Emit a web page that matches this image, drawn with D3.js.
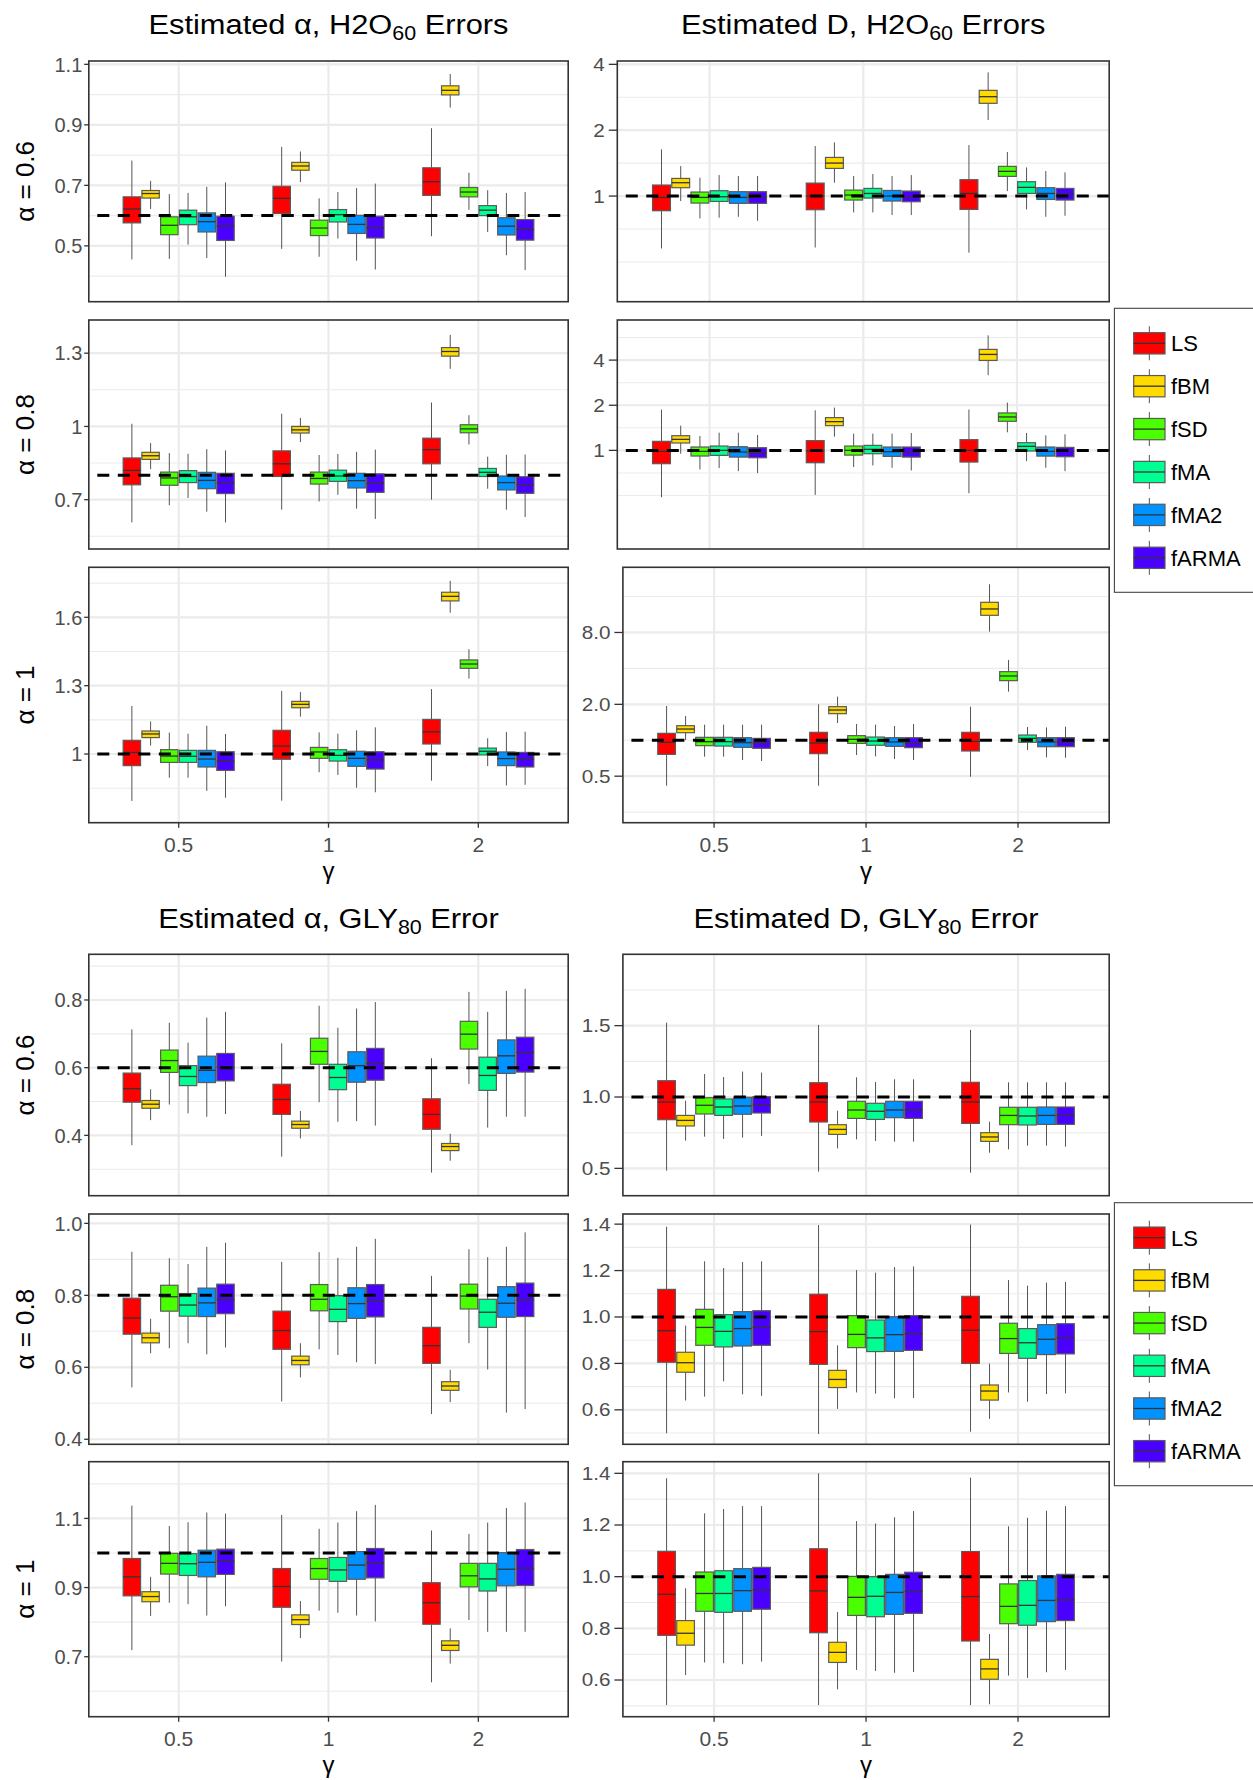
<!DOCTYPE html>
<html>
<head>
<meta charset="utf-8">
<script src="https://cdn.jsdelivr.net/npm/d3@7"></script>
<style>
  body { margin: 0; background: #fff; }
  svg { display: block; }
  text { font-family: "Liberation Sans", Arial, Helvetica, sans-serif; }
</style>
</head>
<body>
<svg id="chart" width="1253" height="1780"></svg>
<script>
// ---------------------------------------------------------------
// Categories
// ---------------------------------------------------------------
const methods = ["LS", "fBM", "fSD", "fMA", "fMA2", "fARMA"];
const methodColors = ["#FF0000", "#FFDB00", "#49FF00", "#00FF92", "#0092FF", "#4900FF"];
const gammaLevels = ["0.5", "1", "2"];

// ---------------------------------------------------------------
// Box statistics: for each γ (0.5, 1, 2), one row per method
// (LS, fBM, fSD, fMA, fMA2, fARMA): [lower whisker, Q1, median, Q3, upper whisker]
// ---------------------------------------------------------------

// Estimated α, H2O60 errors
const alphaH2O_a06 = [
  [[0.455,0.576,0.622,0.662,0.782],[0.622,0.658,0.673,0.683,0.715],[0.457,0.537,0.568,0.596,0.671],
   [0.504,0.570,0.596,0.618,0.675],[0.460,0.546,0.580,0.609,0.695],[0.398,0.518,0.566,0.598,0.710]],
  [[0.490,0.607,0.657,0.697,0.827],[0.711,0.750,0.764,0.776,0.812],[0.464,0.534,0.559,0.585,0.657],
   [0.524,0.579,0.603,0.620,0.678],[0.451,0.541,0.571,0.601,0.691],[0.422,0.526,0.560,0.598,0.706]],
  [[0.532,0.667,0.712,0.758,0.889],[0.957,0.999,1.014,1.029,1.068],[0.619,0.662,0.678,0.693,0.742],
   [0.546,0.600,0.618,0.633,0.684],[0.469,0.536,0.565,0.593,0.675],[0.420,0.519,0.554,0.587,0.678]]
];
const alphaH2O_a08 = [
  [[0.607,0.761,0.820,0.871,1.011],[0.825,0.865,0.880,0.894,0.932],[0.677,0.759,0.789,0.813,0.891],
   [0.707,0.770,0.795,0.819,0.888],[0.651,0.745,0.779,0.812,0.907],[0.607,0.725,0.770,0.808,0.902]],
  [[0.659,0.795,0.847,0.900,1.052],[0.936,0.973,0.986,1.000,1.035],[0.693,0.764,0.787,0.813,0.883],
   [0.720,0.775,0.797,0.821,0.887],[0.663,0.748,0.778,0.808,0.896],[0.621,0.730,0.768,0.806,0.905]],
  [[0.700,0.847,0.905,0.952,1.098],[1.236,1.288,1.307,1.323,1.375],[0.926,0.974,0.990,1.007,1.046],
   [0.745,0.795,0.812,0.828,0.876],[0.659,0.740,0.770,0.797,0.884],[0.629,0.726,0.761,0.794,0.885]]
];
const alphaH2O_a10 = [
  [[0.794,0.949,1.007,1.060,1.211],[1.037,1.072,1.088,1.101,1.143],[0.896,0.963,0.991,1.019,1.094],
   [0.896,0.963,0.990,1.016,1.089],[0.838,0.943,0.978,1.016,1.124],[0.808,0.928,0.969,1.010,1.088]],
  [[0.795,0.977,1.035,1.104,1.277],[1.164,1.203,1.218,1.231,1.272],[0.920,0.981,1.009,1.029,1.095],
   [0.908,0.969,0.994,1.019,1.089],[0.852,0.946,0.981,1.012,1.104],[0.832,0.934,0.974,1.010,1.117]],
  [[0.883,1.044,1.097,1.152,1.285],[1.620,1.672,1.692,1.710,1.760],[1.331,1.376,1.395,1.413,1.460],
   [0.947,0.996,1.012,1.026,1.069],[0.862,0.949,0.980,1.009,1.097],[0.865,0.943,0.978,1.007,1.098]]
];

// Estimated D, H2O60 errors
const dH2O_a06 = [
  [[0.576,0.857,0.986,1.123,1.635],[0.949,1.092,1.151,1.204,1.371],[0.790,0.929,0.986,1.043,1.213],
   [0.796,0.945,0.993,1.058,1.247],[0.804,0.926,0.986,1.047,1.235],[0.771,0.926,0.986,1.047,1.235]],
  [[0.582,0.866,1.000,1.146,1.693],[1.151,1.338,1.415,1.502,1.759],[0.842,0.959,1.011,1.065,1.235],
   [0.842,0.979,1.028,1.084,1.261],[0.819,0.949,1.000,1.061,1.235],[0.819,0.942,0.993,1.054,1.247]],
  [[0.551,0.869,1.028,1.188,1.711],[2.226,2.654,2.846,3.042,3.677],[1.054,1.230,1.297,1.367,1.589],
   [0.869,1.028,1.096,1.163,1.352],[0.804,0.965,1.028,1.092,1.301],[0.813,0.959,1.021,1.084,1.283]]
];
const dH2O_a08 = [
  [[0.487,0.815,0.985,1.149,1.871],[0.950,1.120,1.184,1.253,1.462],[0.746,0.917,0.985,1.053,1.247],
   [0.762,0.926,1.000,1.069,1.313],[0.727,0.902,0.975,1.058,1.313],[0.705,0.893,0.960,1.042,1.266]],
  [[0.505,0.827,0.990,1.161,1.852],[1.234,1.462,1.555,1.654,1.929],[0.774,0.930,1.000,1.069,1.293],
   [0.794,0.950,1.016,1.080,1.293],[0.766,0.912,0.980,1.053,1.293],[0.735,0.902,0.975,1.053,1.306]],
  [[0.518,0.836,1.000,1.179,1.871],[3.175,3.980,4.365,4.715,5.849],[1.320,1.563,1.671,1.777,2.084],
   [0.848,0.990,1.064,1.125,1.306],[0.766,0.916,0.985,1.053,1.260],[0.727,0.907,0.985,1.047,1.280]]
];
const dH2O_a10 = [
  [[0.416,0.762,0.961,1.143,1.937],[1.005,1.157,1.242,1.325,1.596],[0.728,0.901,0.973,1.058,1.351],
   [0.728,0.894,0.973,1.058,1.351],[0.683,0.872,0.955,1.051,1.351],[0.670,0.856,0.948,1.037,1.351]],
  [[0.416,0.772,0.948,1.165,2.000],[1.395,1.670,1.793,1.912,2.319],[0.752,0.942,1.018,1.093,1.368],
   [0.733,0.908,0.985,1.064,1.351],[0.696,0.889,0.967,1.051,1.317],[0.683,0.867,0.955,1.051,1.368]],
  [[0.495,0.813,0.979,1.165,1.912],[8.13,11.14,12.59,14.32,20.26],[2.554,3.159,3.456,3.757,4.70],
   [0.829,0.961,1.037,1.106,1.292],[0.719,0.883,0.967,1.051,1.281],[0.713,0.883,0.967,1.051,1.299]]
];

// Estimated α, GLY80 error
const alphaGLY_a06 = [
  [[0.371,0.498,0.538,0.584,0.713],[0.445,0.480,0.492,0.503,0.536],[0.491,0.586,0.621,0.652,0.733],
   [0.465,0.547,0.574,0.606,0.674],[0.455,0.556,0.592,0.634,0.748],[0.463,0.561,0.601,0.642,0.765]],
  [[0.337,0.462,0.506,0.551,0.672],[0.391,0.421,0.432,0.442,0.472],[0.498,0.610,0.648,0.687,0.783],
   [0.440,0.535,0.571,0.610,0.718],[0.442,0.557,0.606,0.647,0.775],[0.429,0.563,0.612,0.657,0.794]],
  [[0.290,0.418,0.462,0.508,0.628],[0.325,0.355,0.367,0.376,0.405],[0.552,0.655,0.699,0.737,0.824],
   [0.423,0.533,0.577,0.631,0.765],[0.455,0.583,0.635,0.682,0.827],[0.455,0.587,0.645,0.690,0.833]]
];
const alphaGLY_a08 = [
  [[0.544,0.692,0.737,0.792,0.921],[0.639,0.668,0.682,0.695,0.735],[0.653,0.756,0.796,0.828,0.903],
   [0.667,0.742,0.773,0.805,0.887],[0.636,0.741,0.779,0.820,0.935],[0.655,0.749,0.788,0.831,0.946]],
  [[0.505,0.650,0.702,0.756,0.893],[0.572,0.607,0.619,0.631,0.667],[0.650,0.757,0.789,0.830,0.920],
   [0.634,0.727,0.761,0.799,0.904],[0.614,0.736,0.777,0.821,0.935],[0.609,0.740,0.784,0.830,0.957]],
  [[0.470,0.611,0.660,0.711,0.854],[0.503,0.536,0.548,0.560,0.593],[0.667,0.762,0.798,0.831,0.928],
   [0.594,0.711,0.753,0.789,0.906],[0.474,0.739,0.778,0.824,0.935],[0.484,0.741,0.787,0.834,0.975]]
];
const alphaGLY_a10 = [
  [[0.719,0.876,0.931,0.984,1.137],[0.818,0.859,0.874,0.888,0.931],[0.856,0.939,0.970,0.999,1.078],
   [0.852,0.935,0.969,0.998,1.089],[0.819,0.931,0.973,1.008,1.117],[0.846,0.938,0.976,1.011,1.114]],
  [[0.686,0.843,0.903,0.955,1.110],[0.754,0.793,0.807,0.821,0.861],[0.833,0.924,0.955,0.984,1.070],
   [0.827,0.918,0.951,0.987,1.088],[0.819,0.924,0.965,1.004,1.121],[0.802,0.928,0.971,1.013,1.139]],
  [[0.626,0.794,0.856,0.914,1.065],[0.680,0.718,0.733,0.746,0.782],[0.806,0.902,0.934,0.970,1.055],
   [0.772,0.890,0.925,0.970,1.088],[0.772,0.905,0.953,1.001,1.130],[0.772,0.906,0.956,1.010,1.146]]
];

// Estimated D, GLY80 error
const dGLY_a06 = [
  [[0.484,0.841,0.965,1.114,1.521],[0.694,0.797,0.836,0.871,0.974],[0.722,0.881,0.942,0.995,1.161],
   [0.706,0.871,0.930,0.986,1.140],[0.715,0.879,0.937,0.998,1.178],[0.727,0.888,0.944,1.002,1.171]],
  [[0.477,0.825,0.965,1.100,1.505],[0.640,0.738,0.773,0.806,0.904],[0.703,0.850,0.909,0.970,1.138],
   [0.692,0.843,0.900,0.956,1.105],[0.687,0.855,0.909,0.970,1.124],[0.687,0.850,0.909,0.970,1.124]],
  [[0.470,0.815,0.965,1.103,1.470],[0.610,0.689,0.720,0.750,0.827],[0.633,0.806,0.871,0.928,1.103],
   [0.659,0.804,0.867,0.928,1.103],[0.659,0.808,0.871,0.930,1.103],[0.652,0.808,0.871,0.930,1.103]]
];
const dGLY_a08 = [
  [[0.499,0.805,0.941,1.119,1.389],[0.640,0.762,0.803,0.848,0.963],[0.657,0.878,0.955,1.033,1.240],
   [0.723,0.871,0.938,1.010,1.211],[0.667,0.875,0.950,1.023,1.237],[0.660,0.878,0.955,1.027,1.240]],
  [[0.496,0.796,0.937,1.098,1.396],[0.604,0.696,0.731,0.770,0.878],[0.675,0.868,0.925,1.006,1.202],
   [0.670,0.851,0.910,0.987,1.191],[0.650,0.852,0.924,1.001,1.215],[0.651,0.856,0.928,1.006,1.218]],
  [[0.506,0.800,0.943,1.089,1.398],[0.561,0.642,0.681,0.707,0.799],[0.675,0.843,0.907,0.973,1.159],
   [0.635,0.822,0.889,0.950,1.135],[0.668,0.838,0.904,0.967,1.148],[0.671,0.841,0.910,0.971,1.151]]
];
const dGLY_a10 = [
  [[0.503,0.773,0.932,1.098,1.381],[0.619,0.735,0.781,0.830,0.955],[0.668,0.866,0.935,1.018,1.245],
   [0.665,0.862,0.935,1.023,1.262],[0.661,0.866,0.946,1.031,1.273],[0.671,0.874,0.948,1.036,1.273]],
  [[0.503,0.783,0.945,1.108,1.400],[0.564,0.668,0.707,0.746,0.863],[0.639,0.850,0.920,1.001,1.215],
   [0.635,0.845,0.924,1.000,1.206],[0.628,0.854,0.939,1.009,1.230],[0.631,0.858,0.942,1.017,1.254]],
  [[0.503,0.751,0.923,1.097,1.383],[0.506,0.603,0.643,0.680,0.778],[0.617,0.818,0.885,0.972,1.195],
   [0.608,0.812,0.889,0.985,1.228],[0.630,0.826,0.908,1.003,1.255],[0.639,0.830,0.910,1.009,1.273]]
];

// ---------------------------------------------------------------
// Axis ticks, tick labels and scale limits per panel
// ---------------------------------------------------------------
const ticksAlphaH2O = [[0.5, 0.7, 0.9, 1.1], [0.7, 1.0, 1.3], [1.0, 1.3, 1.6]];
const labelsAlphaH2O = [["0.5", "0.7", "0.9", "1.1"], ["0.7", "1", "1.3"], ["1", "1.3", "1.6"]];
const limitsAlphaH2O = [[0.3155, 1.111], [0.498, 1.436], [0.6985, 1.8195]];

const ticksDH2O = [[1, 2, 4], [1, 2, 4], [0.5, 2, 8]];
const labelsDH2O = [["1", "2", "4"], ["1", "2", "4"], ["0.5", "2.0", "8.0"]];
const limitsDH2O = [[0.329, 4.143], [0.2199, 7.406], [0.2038, 28.13]];

const ticksAlphaGLY = [[0.4, 0.6, 0.8], [0.4, 0.6, 0.8, 1.0], [0.7, 0.9, 1.1]];
const labelsAlphaGLY = [["0.4", "0.6", "0.8"], ["0.4", "0.6", "0.8", "1.0"], ["0.7", "0.9", "1.1"]];
const limitsAlphaGLY = [[0.2217, 0.935], [0.386, 1.026], [0.5265, 1.264]];

const ticksDGLY = [[0.5, 1.0, 1.5], [0.6, 0.8, 1.0, 1.2, 1.4], [0.6, 0.8, 1.0, 1.2, 1.4]];
const labelsDGLY = [["0.5", "1.0", "1.5"], ["0.6", "0.8", "1.0", "1.2", "1.4"], ["0.6", "0.8", "1.0", "1.2", "1.4"]];
const limitsDGLY = [[0.3084, 2.0], [0.4515, 1.4437], [0.458, 1.445]];

const trueAlpha = [0.6, 0.8, 1];
const alphaTitles = ["α = 0.6", "α = 0.8", "α = 1"];

// ---------------------------------------------------------------
// Layout
// ---------------------------------------------------------------
const svg = d3.select("#chart");
const GRID = "#EBEBEB";

const rowsTop = [[61, 301.7], [320, 549], [567.3, 822.7]];
const rowsBottom = [[954.3, 1195.7], [1214, 1444.3], [1461.7, 1716.7]];
const colLeft = [88.8, 568.2];
const colRightA = [617.3, 1109.2];
const colRightB = [622.9, 1109.2];

const panels = [];
for (let r = 0; r < 3; r++) {
  panels.push({ data: [alphaH2O_a06, alphaH2O_a08, alphaH2O_a10][r], ticks: ticksAlphaH2O[r],
    labels: labelsAlphaH2O[r], limits: limitsAlphaH2O[r], log: false, ref: trueAlpha[r],
    x: colLeft, y: rowsTop[r], side: "left", yTitle: alphaTitles[r], xAxis: r === 2 });
  panels.push({ data: [dH2O_a06, dH2O_a08, dH2O_a10][r], ticks: ticksDH2O[r],
    labels: labelsDH2O[r], limits: limitsDH2O[r], log: true, ref: 1,
    x: r === 2 ? colRightB : colRightA, y: rowsTop[r], side: "right", yTitle: null, xAxis: r === 2 });
  panels.push({ data: [alphaGLY_a06, alphaGLY_a08, alphaGLY_a10][r], ticks: ticksAlphaGLY[r],
    labels: labelsAlphaGLY[r], limits: limitsAlphaGLY[r], log: false, ref: trueAlpha[r],
    x: colLeft, y: rowsBottom[r], side: "left", yTitle: alphaTitles[r], xAxis: r === 2 });
  panels.push({ data: [dGLY_a06, dGLY_a08, dGLY_a10][r], ticks: ticksDGLY[r],
    labels: labelsDGLY[r], limits: limitsDGLY[r], log: false, ref: 1,
    x: colRightB, y: rowsBottom[r], side: "right", yTitle: null, xAxis: r === 2 });
}

// text anchored at (x, y) with an optional horizontal stretch
function label(parent, x, y, str, size, anchor, fill, sx) {
  return parent.append("text")
    .attr("transform", `translate(${x},${y}) scale(${sx || 1},1)`)
    .attr("text-anchor", anchor || "middle")
    .attr("font-size", size)
    .attr("fill", fill || "#000")
    .text(str);
}

// minor grid values: midpoints between major breaks, extended by one step each side
function minorBreaks(ticks, log, limits) {
  const f = log ? Math.log2 : (v => v);
  const inv = log ? (v => Math.pow(2, v)) : (v => v);
  const tv = ticks.map(f);
  const step = tv[1] - tv[0];
  const ext = [tv[0] - step, ...tv, tv[tv.length - 1] + step];
  const out = [];
  for (let i = 0; i < ext.length; i++) {
    out.push(ext[i]);
    if (i < ext.length - 1) out.push((ext[i] + ext[i + 1]) / 2);
  }
  const lo = f(limits[0]), hi = f(limits[1]);
  return out.filter(v => v >= lo - 1e-9 && v <= hi + 1e-9).map(inv);
}

function drawPanel(p) {
  const [x0, x1] = p.x, [y0, y1] = p.y;
  const g = svg.append("g");

  const x = d3.scaleBand().domain(gammaLevels).range([x0, x1])
    .paddingInner(0.25).paddingOuter(0.225);
  const xm = d3.scaleBand().domain(methods).range([0, x.bandwidth()])
    .paddingInner(0.07).paddingOuter(0.035);
  const y = (p.log ? d3.scaleLog().base(2) : d3.scaleLinear())
    .domain(p.limits).range([y1, y0]);

  g.append("rect").attr("x", x0).attr("y", y0).attr("width", x1 - x0).attr("height", y1 - y0)
    .attr("fill", "#fff");

  // grid
  g.selectAll(".minor").data(minorBreaks(p.ticks, p.log, p.limits)).join("line")
    .attr("x1", x0).attr("x2", x1).attr("y1", d => y(d)).attr("y2", d => y(d))
    .attr("stroke", GRID).attr("stroke-width", 1.1);
  g.selectAll(".majorY").data(p.ticks).join("line")
    .attr("x1", x0).attr("x2", x1).attr("y1", d => y(d)).attr("y2", d => y(d))
    .attr("stroke", GRID).attr("stroke-width", 2.2);
  g.selectAll(".majorX").data(gammaLevels).join("line")
    .attr("x1", d => x(d) + x.bandwidth() / 2).attr("x2", d => x(d) + x.bandwidth() / 2)
    .attr("y1", y0).attr("y2", y1)
    .attr("stroke", GRID).attr("stroke-width", 2.2);

  // boxes
  const boxes = [];
  p.data.forEach((grp, gi) => grp.forEach((s, mi) => boxes.push({ gamma: gammaLevels[gi], m: mi, s })));
  const bx = d => x(d.gamma) + xm(methods[d.m]);
  const bw = xm.bandwidth();
  const bg = g.selectAll(".box").data(boxes).join("g");
  bg.append("line")
    .attr("x1", d => bx(d) + bw / 2).attr("x2", d => bx(d) + bw / 2)
    .attr("y1", d => y(d.s[4])).attr("y2", d => y(d.s[3]))
    .attr("stroke", "#555").attr("stroke-width", 1);
  bg.append("line")
    .attr("x1", d => bx(d) + bw / 2).attr("x2", d => bx(d) + bw / 2)
    .attr("y1", d => y(d.s[1])).attr("y2", d => y(d.s[0]))
    .attr("stroke", "#555").attr("stroke-width", 1);
  bg.append("rect")
    .attr("x", d => bx(d)).attr("width", bw)
    .attr("y", d => y(d.s[3])).attr("height", d => y(d.s[1]) - y(d.s[3]))
    .attr("fill", d => methodColors[d.m])
    .attr("stroke", "#5a5a5a").attr("stroke-width", 1.2);
  bg.append("line")
    .attr("x1", d => bx(d)).attr("x2", d => bx(d) + bw)
    .attr("y1", d => y(d.s[2])).attr("y2", d => y(d.s[2]))
    .attr("stroke", "#333").attr("stroke-width", 1.3);

  // reference line at the true value
  g.append("line")
    .attr("x1", x0).attr("x2", x1).attr("y1", y(p.ref)).attr("y2", y(p.ref))
    .attr("stroke", "#000").attr("stroke-width", 3)
    .attr("stroke-dasharray", "12,8.5").attr("stroke-dashoffset", 12);

  // panel border
  g.append("rect").attr("x", x0).attr("y", y0).attr("width", x1 - x0).attr("height", y1 - y0)
    .attr("fill", "none").attr("stroke", "#333").attr("stroke-width", 1.6);

  // y axis
  const left = p.side === "left";
  const tickLen = left ? 4.6 : 8.5;
  const gap = left ? 6.5 : 12.5;
  const fs = left ? 20 : 18;
  const sx = left ? 1 : 1.15;
  p.ticks.forEach((v, i) => {
    g.append("line").attr("x1", x0 - tickLen).attr("x2", x0).attr("y1", y(v)).attr("y2", y(v))
      .attr("stroke", "#333").attr("stroke-width", 1.3);
    label(g, x0 - gap, y(v), p.labels[i], fs, "end", "#4D4D4D", sx).attr("dy", "0.36em");
  });

  // x axis on the bottom row
  if (p.xAxis) {
    gammaLevels.forEach(c => {
      const cx = x(c) + x.bandwidth() / 2;
      g.append("line").attr("x1", cx).attr("x2", cx).attr("y1", y1).attr("y2", y1 + 5)
        .attr("stroke", "#333").attr("stroke-width", 1.3);
      label(g, cx, y1 + 29.5, c, 21, "middle", "#4D4D4D");
    });
    label(g, (x0 + x1) / 2, y1 + 56, "γ", 24, "middle", "#000");
  }

  // y title
  if (p.yTitle) {
    g.append("text")
      .attr("transform", `translate(34.4,${(y0 + y1) / 2}) rotate(-90)`)
      .attr("text-anchor", "middle").attr("font-size", 26).attr("fill", "#000")
      .text(p.yTitle);
  }
}

panels.forEach(drawPanel);

// ---------------------------------------------------------------
// Column titles
// ---------------------------------------------------------------
function title(cx, base, lead, sub, tail) {
  const t = svg.append("text")
    .attr("transform", `translate(${cx},${base}) scale(1.1,1)`)
    .attr("text-anchor", "middle").attr("font-size", 28).attr("fill", "#000");
  t.append("tspan").text(lead);
  t.append("tspan").attr("font-size", 19.5).attr("dy", 6.5).text(sub);
  t.append("tspan").attr("dy", -6.5).text(tail);
}
title((colLeft[0] + colLeft[1]) / 2, 33.5, "Estimated α, H2O", "60", " Errors");
title((colRightA[0] + colRightA[1]) / 2, 33.5, "Estimated D, H2O", "60", " Errors");
title((colLeft[0] + colLeft[1]) / 2, 927.5, "Estimated α, GLY", "80", " Error");
title((colRightB[0] + colRightB[1]) / 2, 927.5, "Estimated D, GLY", "80", " Error");

// ---------------------------------------------------------------
// Legends
// ---------------------------------------------------------------
function legend(top, bottom) {
  const g = svg.append("g");
  g.append("rect").attr("x", 1114.4).attr("y", top).attr("width", 160).attr("height", bottom - top)
    .attr("fill", "#fff").attr("stroke", "#444").attr("stroke-width", 1.1);
  const ky = d3.scalePoint().domain(methods).range([top + 35, bottom - 34.5]);
  methods.forEach((m, i) => {
    const cy = ky(m);
    const kx = 1133.7, kw = 31.3, kh = 21.3;
    g.append("line").attr("x1", kx + kw / 2).attr("x2", kx + kw / 2)
      .attr("y1", cy - 17).attr("y2", cy + 17).attr("stroke", "#555").attr("stroke-width", 1);
    g.append("rect").attr("x", kx).attr("y", cy - kh / 2).attr("width", kw).attr("height", kh)
      .attr("fill", methodColors[i]).attr("stroke", "#5a5a5a").attr("stroke-width", 1.2);
    g.append("line").attr("x1", kx).attr("x2", kx + kw).attr("y1", cy).attr("y2", cy)
      .attr("stroke", "#333").attr("stroke-width", 1.3);
    label(g, 1171, cy, m, 22, "start", "#000").attr("dy", "0.36em");
  });
}
legend(308.3, 592.3);
legend(1202.7, 1485.7);
</script>
</body>
</html>
